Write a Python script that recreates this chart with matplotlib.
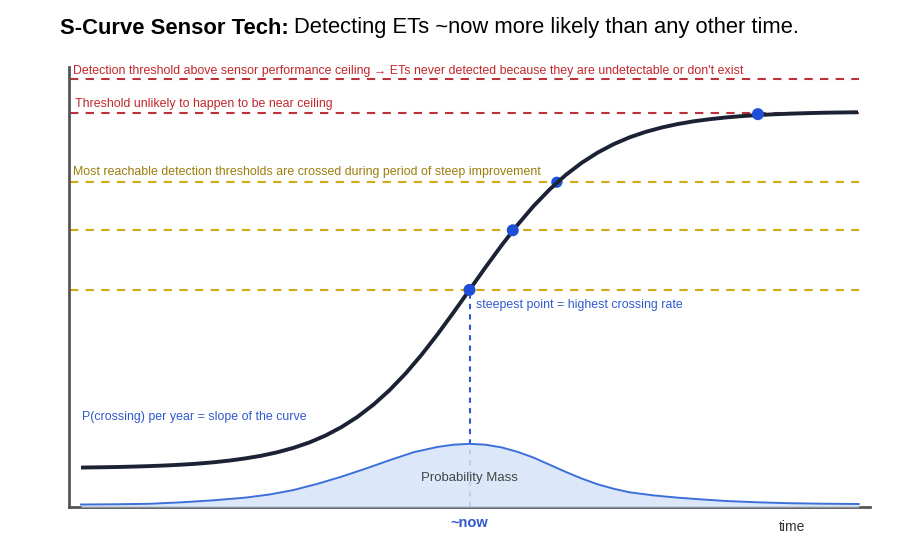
import matplotlib
matplotlib.use('Agg')
import matplotlib.pyplot as plt

plt.rcParams['font.family'] = ['Liberation Sans', 'DejaVu Sans']

# s-curve of sensor performance
t_curve = [1.5, 2, 4, 6, 8, 10, 12, 14, 16, 18, 20, 22, 24, 26, 28, 30, 32,
           34, 36, 38, 40, 42, 44, 46, 48, 50, 52, 54, 56, 58, 60, 62, 64, 66,
           68, 70, 72, 74, 76, 78, 80, 82, 84, 86, 88, 90, 92, 94, 96, 98, 98.5]
perf = [8.86, 8.88, 8.93, 8.99, 9.08, 9.19, 9.33, 9.51, 9.74, 10.04, 10.43,
        10.92, 11.52, 12.30, 13.28, 14.50, 16.04, 17.94, 20.24, 22.99, 26.23,
        29.96, 34.18, 38.80, 43.72, 48.80, 53.88, 58.80, 63.42, 67.64, 71.37,
        74.61, 77.36, 79.66, 81.56, 83.10, 84.32, 85.30, 86.08, 86.70, 87.17,
        87.56, 87.86, 88.09, 88.27, 88.41, 88.52, 88.61, 88.67, 88.72, 88.73]

# probability mass bump at the bottom
t_mass = [1.5, 6, 10, 14, 18, 22, 25, 28, 31, 34, 37, 40, 43, 46, 48, 50, 52,
          54, 56, 58, 60, 62, 64, 66, 68, 70, 73, 76, 79, 82, 86, 90, 94, 98.6]
mass = [0.56, 0.62, 0.72, 1.05, 1.5, 2.1, 2.8, 3.8, 5.2, 6.8, 8.6, 10.5, 12.3,
        13.5, 14.0, 14.2, 14.0, 13.4, 12.4, 11.1, 9.5, 7.9, 6.4, 5.1, 4.1, 3.3,
        2.6, 2.1, 1.7, 1.35, 1.05, 0.85, 0.74, 0.67]

red_levels = [96.2, 88.5]
gold_levels = [73.0, 62.2, 48.8]
pt_t = [50, 55.4, 60.9, 86.0]
pt_y = [48.8, 62.2, 73.0, 88.3]
now_t = 50

RED = '#b8333b'
RED_TXT = '#c1272d'
GOLD = '#d6a719'
GOLD_TXT = '#9c7c0c'
BLUE = '#1f4fd6'
BLUE_TXT = '#3159cf'
NAVY = '#1b2233'

fig = plt.figure(figsize=(9, 5.6), dpi=100)
ax = fig.add_axes([69/900, 53/560, 801/900, 440/560])
ax.set_xlim(0, 100)
ax.set_ylim(0, 98.9)

for s in ['top', 'right']:
	ax.spines[s].set_visible(False)
for s in ['left', 'bottom']:
	ax.spines[s].set_color('#555555')
	ax.spines[s].set_linewidth(2)
ax.set_xticks([])
ax.set_yticks([])

for lv in red_levels:
	ax.plot([0.1, 98.6], [lv, lv], ls=(0, (4, 3.5)), color=RED, lw=1.5, zorder=2)
for lv in gold_levels:
	ax.plot([0.1, 98.6], [lv, lv], ls=(0, (4, 3.5)), color=GOLD, lw=1.5, zorder=2)

# vertical marker from steepest point down
ax.plot([now_t, now_t], [0, gold_levels[-1]], ls=(0, (2.5, 2.5)), color=BLUE_TXT,
        lw=1.5, zorder=1)

ax.fill_between(t_mass, 0, mass, color='#d6e5fa', alpha=0.85, lw=0, zorder=3)
ax.plot(t_mass, mass, color='#3d6fd9', lw=1.4, zorder=4)

ax.plot(t_curve, perf, color=NAVY, lw=2.8, zorder=5, solid_capstyle='butt')
ax.scatter(pt_t[:2] + pt_t[3:], pt_y[:2] + pt_y[3:], s=75, color=BLUE, zorder=6,
           edgecolors='none')
ax.scatter([pt_t[2]], [pt_y[2]], s=65, color=BLUE, zorder=4, edgecolors='none')

fs = 8.95
ax.text(0.5, 98.0, 'Detection threshold above sensor performance ceiling \u2192 ETs never '
        'detected because they are undetectable or don\'t exist',
        color=RED_TXT, fontsize=fs, va='center', ha='left')
ax.text(0.75, 90.6, 'Threshold unlikely to happen to be near ceiling',
        color=RED_TXT, fontsize=fs, va='center', ha='left')
ax.text(0.5, 75.4, 'Most reachable detection thresholds are crossed during period of steep improvement',
        color=GOLD_TXT, fontsize=fs, va='center', ha='left')
ax.text(50.8, 45.4, 'steepest point = highest crossing rate',
        color=BLUE_TXT, fontsize=fs, va='center', ha='left')
ax.text(1.6, 20.2, 'P(crossing) per year = slope of the curve',
        color=BLUE_TXT, fontsize=fs, va='center', ha='left')
ax.text(50, 6.5, 'Probability Mass', color='#444444', fontsize=9.5,
        va='center', ha='center', zorder=7)
ax.text(now_t, -3.6, '~now', color=BLUE_TXT, fontsize=10.5, fontweight='bold',
        va='center', ha='center', clip_on=False)
ax.text(90.3, -4.5, 'time', color='#333333', fontsize=10,
        va='center', ha='center', clip_on=False)

r = fig.canvas.get_renderer()
t1 = fig.text(60/900, 1 - 28/560, 'S-Curve Sensor Tech:', fontsize=15.8,
              fontweight='bold', va='center', ha='left')
bb = t1.get_window_extent(renderer=r)
fig.text(bb.x1/900 + 5/900, 1 - 28/560, 'Detecting ETs ~now more likely than any other time.',
         fontsize=15.8, va='center', ha='left')

fig.savefig('out.png', dpi=100, facecolor='white')
